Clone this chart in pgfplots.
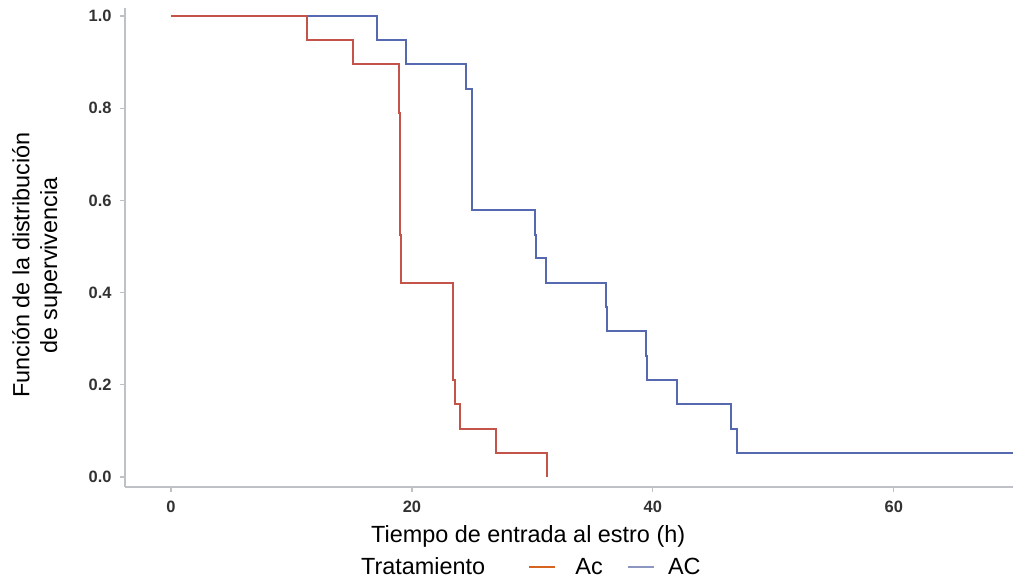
\documentclass[border=0pt]{standalone}
\usepackage{pgfplots}
\pgfplotsset{compat=1.18}
\usepackage{fontspec}
\setmainfont{Liberation Sans}
\definecolor{kmred}{RGB}{196,84,74}
\definecolor{kmblue}{RGB}{86,104,176}
\definecolor{legorange}{RGB}{214,100,30}
\definecolor{legblue}{RGB}{140,150,192}
\definecolor{axgray}{RGB}{190,194,198}
\definecolor{tickgray}{RGB}{50,50,50}
\begin{document}
\begin{tikzpicture}
\begin{axis}[
  name=ax, at={(0,0)}, anchor=south west,
  scale only axis, width=888bp, height=479bp,
  xmin=-3.82, xmax=69.9, ymin=-0.0217, ymax=1.0174,
  axis x line*=bottom, axis y line*=left,
  axis line style={draw=axgray, line width=1.6bp},
  tick align=outside, major tick length=5bp,
  tick style={draw=axgray, line width=1.2bp},
  xtick={0,20,40,60}, ytick={0,0.2,0.4,0.6,0.8,1},
  yticklabel style={/pgf/number format/fixed, /pgf/number format/fixed zerofill, /pgf/number format/precision=1, xshift=-5bp},
  xticklabel style={yshift=-6bp},
  /pgf/number format/assume math mode=true,
  tick label style={font=\fontsize{16.5}{19}\selectfont\bfseries, text=tickgray},
  xlabel={Tiempo de entrada al estro (h)},
  xlabel style={font=\fontsize{23.5}{28}\selectfont, at={(axis description cs:0.454,-0.104)}, anchor=center},
  ylabel={Función de la distribución\\de supervivencia},
  ylabel style={font=\fontsize{23.5}{28}\selectfont, align=center, at={(axis description cs:-0.099,0.463)}, anchor=center},
  legend image code/.code={\draw[#1] (0bp,0bp) -- (26bp,0bp);},
  legend columns=-1,
  legend style={draw=none, fill=none, inner sep=0pt, column sep=0pt,
    font=\fontsize{23.5}{28}\selectfont, nodes={inner sep=0pt},
    at={(axis description cs:0.457,-0.167)}, anchor=center},
]
\addlegendimage{empty legend}
\addlegendentry{Tratamiento\makebox[43bp]{}}
\addlegendimage{legorange, line width=1.3bp}
\addlegendentry{\makebox[20bp]{}Ac\makebox[25bp]{}}
\addlegendimage{legblue, line width=1.3bp}
\addlegendentry{\makebox[13bp]{}AC}

% AC (blue)
\addplot[const plot, kmblue, line width=2bp, forget plot] coordinates {
(0,1) (17.1,0.947) (19.5,0.895) (24.5,0.842) (25.0,0.579) (30.2,0.526)
(30.3,0.474) (31.1,0.421) (36.1,0.368) (36.2,0.316) (39.4,0.263)
(39.5,0.211) (42.0,0.158) (46.5,0.105) (47.0,0.0526) (69.9,0.0526)
};
% Ac (red)
\addplot[const plot, kmred, line width=2bp, forget plot] coordinates {
(0,1) (11.3,0.947) (15.1,0.895) (18.9,0.789) (19.0,0.526) (19.1,0.421)
(23.4,0.211) (23.57,0.158) (23.96,0.105) (27.0,0.0526) (31.2,0)
};
\end{axis}
\pgfresetboundingbox
\path[use as bounding box] ([shift={(-125bp,-92bp)}]ax.south west) rectangle ([shift={(0bp,8bp)}]ax.north east);
\end{tikzpicture}
\end{document}
